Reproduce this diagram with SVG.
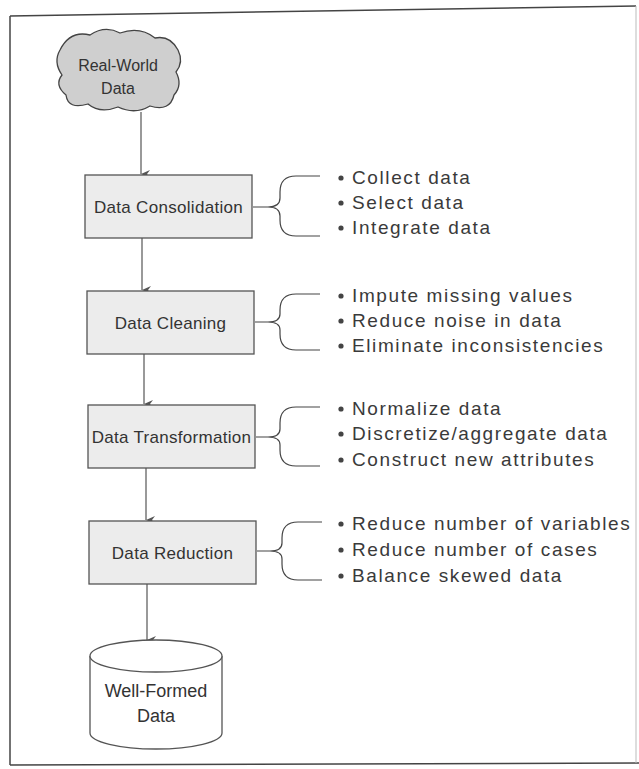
<svg xmlns="http://www.w3.org/2000/svg" width="639" height="769" viewBox="0 0 639 769">
<style>
.frame{stroke:#444;stroke-width:1.5;fill:none}
.box{fill:#ececec;stroke:#555;stroke-width:1.3}
.lbl{font-family:"Liberation Sans",Arial,sans-serif;font-size:17px;fill:#333;text-anchor:middle;letter-spacing:0.3px}
.bul{font-family:"Liberation Sans",Arial,sans-serif;font-size:19px;fill:#3a3a3a;letter-spacing:1.6px}
.dot{fill:#444}
.brace{fill:none;stroke:#444;stroke-width:1.2}
.conn{stroke:#555;stroke-width:1.2;fill:none;marker-end:url(#ah)}
</style>
<defs>
<marker id="ah" markerWidth="8" markerHeight="10" refX="4" refY="9" orient="auto" markerUnits="userSpaceOnUse" viewBox="0 0 8 10">
<path d="M0 0 L4 9 L8 0 L4 3 Z" fill="#555"/>
</marker>
</defs>
<rect width="639" height="769" fill="#ffffff"/>
<g id="frame">
<path class="frame" d="M10 16 L636 6"/>
<path class="frame" d="M10 16 L10 765"/>
<path class="frame" d="M10 765 L639 763"/>
<path d="M636 6 L636 763" stroke="#bbb" stroke-width="1" fill="none"/>
</g>
<g id="connectors">
<path class="conn" d="M141 112 L141 174"/>
<path class="conn" d="M142 238 L142 290"/>
<path class="conn" d="M144 354 L144 404"/>
<path class="conn" d="M146 468 L146 520"/>
<path class="conn" d="M147 584 L147 640"/>
</g>
<g id="cloud">
<path d="M60 50 Q70 30 90 35 Q105 25 120 33 Q140 26 155 38 Q170 35 178 50 Q184 62 176 72 Q183 85 174 95 Q170 112 150 106 Q135 115 118 107 Q100 114 88 104 Q68 110 66 95 Q54 85 62 75 Q53 62 60 50 Z" fill="#cfcfcf" stroke="#444" stroke-width="1.3"/>
<text class="lbl" x="118" y="71" style="font-size:16px;letter-spacing:0">Real-World</text>
<text class="lbl" x="118" y="94" style="font-size:16px;letter-spacing:0">Data</text>
</g>
<g id="consolidation">
<rect class="box" x="85" y="175" width="167" height="63"/>
<text class="lbl" x="168.5" y="213">Data Consolidation</text>
</g>
<g id="cleaning">
<rect class="box" x="87" y="291" width="167" height="63"/>
<text class="lbl" x="170.5" y="329">Data Cleaning</text>
</g>
<g id="transformation">
<rect class="box" x="88" y="405" width="167" height="63"/>
<text class="lbl" x="171.5" y="443">Data Transformation</text>
</g>
<g id="reduction">
<rect class="box" x="89" y="521" width="167" height="63"/>
<text class="lbl" x="172.5" y="559">Data Reduction</text>
</g>
<g id="wellformed">
<path d="M90 656 L90 733 A66 16 0 0 0 222 733 L222 656" fill="#fff" stroke="#555" stroke-width="1.3"/>
<ellipse cx="156" cy="656" rx="66" ry="16" fill="#fff" stroke="#555" stroke-width="1.3"/>
<text class="lbl" x="156" y="697" style="font-size:18px;letter-spacing:0">Well-Formed</text>
<text class="lbl" x="156" y="722" style="font-size:18px;letter-spacing:0">Data</text>
</g>
<g id="brace1">
<path class="brace" d="M253 207 L268 207 M320 176 L296 176 Q280 176 280 192 L280 198 Q280 207 268 207 Q280 207 280 216 L280 220 Q280 236 296 236 L320 236"/>
<circle class="dot" cx="341" cy="178" r="2.6"/><text class="bul" x="352" y="184">Collect data</text>
<circle class="dot" cx="341" cy="203" r="2.6"/><text class="bul" x="352" y="209">Select data</text>
<circle class="dot" cx="341" cy="228" r="2.6"/><text class="bul" x="352" y="234">Integrate data</text>
</g>
<g id="brace2">
<path class="brace" d="M255 322 L268 322 M320 294 L296 294 Q280 294 280 310 L280 314 Q280 322 268 322 Q280 322 280 330 L280 334 Q280 350 296 350 L320 350"/>
<circle class="dot" cx="341" cy="296" r="2.6"/><text class="bul" x="352" y="302">Impute missing values</text>
<circle class="dot" cx="341" cy="321" r="2.6"/><text class="bul" x="352" y="327">Reduce noise in data</text>
<circle class="dot" cx="341" cy="346" r="2.6"/><text class="bul" x="352" y="352">Eliminate inconsistencies</text>
</g>
<g id="brace3">
<path class="brace" d="M256 437 L268 437 M320 407 L296 407 Q280 407 280 423 L280 429 Q280 437 268 437 Q280 437 280 445 L280 450 Q280 466 296 466 L320 466"/>
<circle class="dot" cx="341" cy="409" r="2.6"/><text class="bul" x="352" y="415">Normalize data</text>
<circle class="dot" cx="341" cy="434" r="2.6"/><text class="bul" x="352" y="440">Discretize/aggregate data</text>
<circle class="dot" cx="341" cy="460" r="2.6"/><text class="bul" x="352" y="466">Construct new attributes</text>
</g>
<g id="brace4">
<path class="brace" d="M257 551 L270 551 M322 522 L298 522 Q282 522 282 538 L282 543 Q282 551 270 551 Q282 551 282 559 L282 564 Q282 580 298 580 L322 580"/>
<circle class="dot" cx="341" cy="524" r="2.6"/><text class="bul" x="352" y="530">Reduce number of variables</text>
<circle class="dot" cx="341" cy="550" r="2.6"/><text class="bul" x="352" y="556">Reduce number of cases</text>
<circle class="dot" cx="341" cy="576" r="2.6"/><text class="bul" x="352" y="582">Balance skewed data</text>
</g>
</svg>
